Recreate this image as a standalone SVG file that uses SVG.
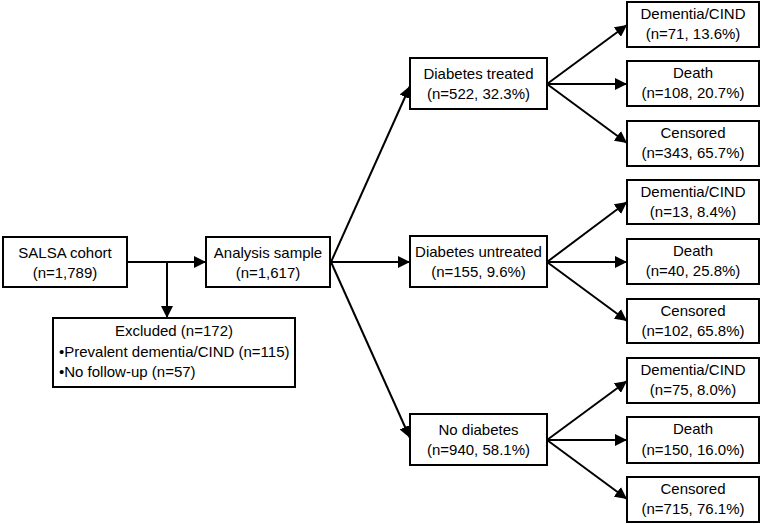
<svg xmlns="http://www.w3.org/2000/svg" width="761" height="524" viewBox="0 0 761 524">
<defs>
<marker id="ah" markerUnits="userSpaceOnUse" markerWidth="12" markerHeight="12" viewBox="0 0 12 12" refX="12" refY="6" orient="auto">
<path d="M0,0 L12,6 L0,12 Z" fill="#000"/>
</marker>
</defs>
<style>
rect{fill:#fff;stroke:#000;stroke-width:2}
text{font-family:"Liberation Sans",Arial,sans-serif;font-size:15px;fill:#000;text-anchor:middle}
.l{text-anchor:start}
#connectors line,#connectors polyline{stroke:#000;stroke-width:2;fill:none}
.a{marker-end:url(#ah)}
</style>
<rect x="0" y="0" width="761" height="524" style="fill:#fff;stroke:none"/>
<g id="connectors">
<line x1="127" y1="262" x2="206" y2="262" class="a"/>
<line x1="167" y1="262" x2="167" y2="318" class="a"/>
<line x1="331" y1="262" x2="410" y2="86" class="a"/>
<line x1="331" y1="262" x2="410" y2="262" class="a"/>
<line x1="331" y1="262" x2="410" y2="438" class="a"/>
<line x1="547" y1="84" x2="627" y2="25" class="a"/>
<line x1="547" y1="84" x2="627" y2="84" class="a"/>
<line x1="547" y1="84" x2="627" y2="143" class="a"/>
<line x1="547" y1="262" x2="627" y2="202" class="a"/>
<line x1="547" y1="262" x2="627" y2="262" class="a"/>
<line x1="547" y1="262" x2="627" y2="321" class="a"/>
<line x1="547" y1="440" x2="627" y2="381" class="a"/>
<line x1="547" y1="440" x2="627" y2="440" class="a"/>
<line x1="547" y1="440" x2="627" y2="499" class="a"/>
</g>
<g id="salsa"><rect x="3" y="237" width="124" height="50"/><text x="65" y="258">SALSA cohort</text><text x="65" y="278">(n=1,789)</text></g>
<g id="analysis"><rect x="206" y="237" width="124" height="50"/><text x="268" y="258">Analysis sample</text><text x="268" y="278">(n=1,617)</text></g>
<g id="excluded"><rect x="53" y="318" width="242" height="69"/><text x="174" y="336">Excluded (n=172)</text><text class="l" x="59" y="357">•Prevalent dementia/CIND (n=115)</text><text class="l" x="59" y="377">•No follow-up (n=57)</text></g>
<g id="treated"><rect x="410" y="58" width="137" height="51"/><text x="478.5" y="79">Diabetes treated</text><text x="478.5" y="99">(n=522, 32.3%)</text></g>
<g id="untreated"><rect x="410" y="236" width="137" height="51"/><text x="478.5" y="257">Diabetes untreated</text><text x="478.5" y="277">(n=155, 9.6%)</text></g>
<g id="nodiab"><rect x="410" y="414" width="137" height="51"/><text x="478.5" y="435">No diabetes</text><text x="478.5" y="455">(n=940, 58.1%)</text></g>
<g id="t_dem"><rect x="627" y="2" width="132" height="45"/><text x="693" y="19">Dementia/CIND</text><text x="693" y="39">(n=71, 13.6%)</text></g>
<g id="t_death"><rect x="627" y="61" width="132" height="45"/><text x="693" y="78">Death</text><text x="693" y="98">(n=108, 20.7%)</text></g>
<g id="t_cens"><rect x="627" y="121" width="132" height="45"/><text x="693" y="138">Censored</text><text x="693" y="158">(n=343, 65.7%)</text></g>
<g id="u_dem"><rect x="627" y="180" width="132" height="44"/><text x="693" y="197">Dementia/CIND</text><text x="693" y="217">(n=13, 8.4%)</text></g>
<g id="u_death"><rect x="627" y="239" width="132" height="45"/><text x="693" y="256">Death</text><text x="693" y="276">(n=40, 25.8%)</text></g>
<g id="u_cens"><rect x="627" y="299" width="132" height="44"/><text x="693" y="316">Censored</text><text x="693" y="336">(n=102, 65.8%)</text></g>
<g id="n_dem"><rect x="627" y="358" width="132" height="45"/><text x="693" y="375">Dementia/CIND</text><text x="693" y="395">(n=75, 8.0%)</text></g>
<g id="n_death"><rect x="627" y="417" width="132" height="46"/><text x="693" y="434">Death</text><text x="693" y="455">(n=150, 16.0%)</text></g>
<g id="n_cens"><rect x="627" y="477" width="132" height="45"/><text x="693" y="494">Censored</text><text x="693" y="514">(n=715, 76.1%)</text></g>
</svg>
